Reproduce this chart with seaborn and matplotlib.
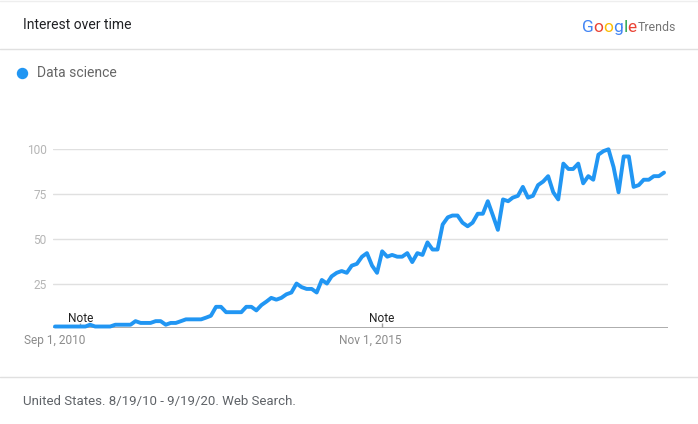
import matplotlib
matplotlib.use("Agg")
import numpy as np
import pandas as pd
import seaborn as sns
import matplotlib.pyplot as plt
import matplotlib.transforms as mtransforms
from matplotlib.lines import Line2D

# Google Trends "Data science", monthly, Aug 2010 - Sep 2020
start_month = "2010-08-01"
interest = [1, 1, 1, 1, 1, 1, 1, 2, 1, 1, 1, 1, 2, 2, 2, 2,
            4, 3, 3, 3, 4, 4, 2, 3, 3, 4, 5, 5, 5, 5, 6,
            7, 12, 12, 9, 9, 9, 9, 12, 12, 10, 13, 15, 17, 16, 17, 19, 20,
            25, 23, 22, 22, 20, 27, 25, 29, 31, 32, 31, 35, 36, 40, 42, 35, 31,
            43, 40, 41, 40, 40, 42, 37, 42, 41, 48, 44, 44, 58, 62, 63, 63,
            59, 57, 59, 64, 64, 71, 63, 55, 72, 71, 73, 74, 79, 73, 74, 80,
            82, 85, 76, 72, 92, 89, 89, 92, 81, 85, 83, 97, 99, 100, 90, 76,
            96, 96, 79, 80, 83, 83, 85, 85, 87]
tick_dates = ["2010-09-01", "2015-11-01"]
tick_labels = ["Sep 1, 2010", "Nov 1, 2015"]
note_dates = ["2011-01-01", "2016-01-01"]
y_ticks = [25, 50, 75, 100]
series_name = "Data science"

google_letters = ["G", "o", "o", "g", "l", "e"]
google_colors = ["#4285F4", "#EA4335", "#FBBC05", "#4285F4", "#34A853", "#EA4335"]

W, H = 698, 424
BLUE = "#2196f3"


def fx(px):
    return px / W


def fy(py):
    return 1 - py / H


def go():
    sns.set_theme(style="white")
    plt.rcParams["font.family"] = ["Roboto", "DejaVu Sans"]

    dates = pd.date_range(start_month, periods=len(interest), freq="MS")
    df = pd.DataFrame({"date": dates, "interest": interest})

    fig = plt.figure(figsize=(W / 100, H / 100), dpi=100)
    ax = fig.add_axes([fx(53), fy(328.3), (668 - 53) / W, 179 / H])

    sns.lineplot(data=df, x="date", y="interest", color=BLUE, linewidth=2.8,
                 ax=ax, legend=False)
    for ln in ax.lines:
        ln.set_clip_on(False)
        ln.set_solid_joinstyle("round")
        ln.set_zorder(5)

    ax.set_xlim(dates[0] - pd.Timedelta(days=12), dates[-1] + pd.Timedelta(days=24))
    ax.set_ylim(0, 100)
    ax.set_yticks(y_ticks)
    ax.yaxis.grid(True, color="#e0e0e0", linewidth=1)
    ax.xaxis.grid(False)
    ax.axhline(0, color="#9e9e9e", linewidth=1.2, zorder=3)
    for s in ax.spines.values():
        s.set_visible(False)

    ax.set_xticks(pd.to_datetime(tick_dates))
    ax.set_xticklabels(tick_labels)
    ax.tick_params(axis="both", length=0, labelsize=8.6, labelcolor="#8c8c8c")
    ax.tick_params(axis="y", pad=4.5, labelcolor="#b5b5b5")
    ax.tick_params(axis="x", pad=4)
    ax.set_xlabel("")
    ax.set_ylabel("")
    # nudge date labels a little left, like the trends widget does
    for lab, dx in zip(ax.get_xticklabels(), [-5, -2]):
        lab.set_transform(lab.get_transform() +
                          mtransforms.ScaledTranslation(dx / 100, 0, fig.dpi_scale_trans))

    # "Note" markers
    for d in pd.to_datetime(note_dates):
        ax.vlines(d, 0, 3, color="#9e9e9e", linewidth=1, zorder=4)
        ax.text(d, 1.8, "Note", ha="center", va="bottom", fontsize=8.6,
                color="#222222", zorder=6)

    # header / footer
    fig.add_artist(Line2D([0, 1], [fy(0.8)] * 2, color="#eeeeee", lw=1,
                          transform=fig.transFigure))
    fig.add_artist(Line2D([0, 1], [fy(48.5)] * 2, color="#e0e0e0", lw=1,
                          transform=fig.transFigure))
    fig.add_artist(Line2D([0, 1], [fy(377)] * 2, color="#e0e0e0", lw=1,
                          transform=fig.transFigure))
    fig.text(fx(23), fy(25), "Interest over time", fontsize=10, color="#202124",
             va="center", ha="left")
    fig.text(fx(23), fy(402), "United States. 8/19/10 - 9/19/20. Web Search.",
             fontsize=9.5, color="#5f6368", va="center", ha="left")

    # legend
    fig.add_artist(Line2D([fx(21.5)], [fy(73)], marker="o", markersize=7.2,
                          color=BLUE, linestyle="none", transform=fig.transFigure))
    fig.text(fx(37), fy(73), series_name, fontsize=10, color="#666666",
             va="center", ha="left")

    # Google Trends logo, letter by letter
    prev = fig.text(fx(582), fy(35), google_letters[0], fontsize=12.5,
                    color=google_colors[0], va="bottom", ha="left")
    for ch, col in zip(google_letters[1:], google_colors[1:]):
        prev = ax.annotate(ch, xy=(1, 0), xycoords=prev, va="bottom", ha="left",
                           fontsize=12.5, color=col, annotation_clip=False)
    ax.annotate("Trends", xy=(1, 0), xycoords=prev, xytext=(0.6, 0.7),
                textcoords="offset points", va="bottom", ha="left",
                fontsize=8.8, color="#757575", annotation_clip=False)

    fig.savefig("out.png", dpi=100)


if __name__ == "__main__":
    go()
